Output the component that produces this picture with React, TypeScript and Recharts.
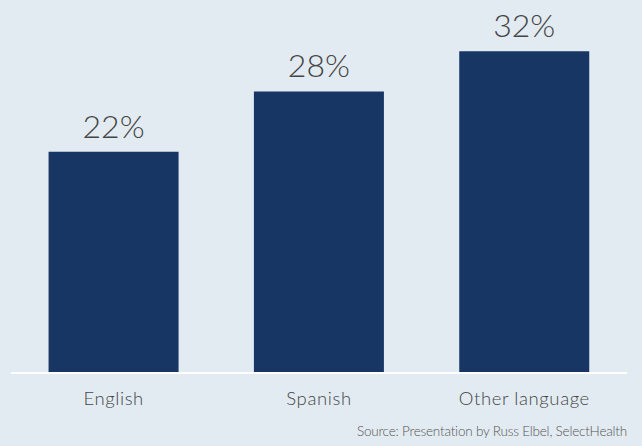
import React from 'react';
import { BarChart, Bar, XAxis, YAxis, LabelList } from 'recharts';

const languages = ['English', 'Spanish', 'Other language'];
const shares = [22, 28, 32];
const source = 'Source: Presentation by Russ Elbel, SelectHealth';

const data = languages.map((name, i) => ({ name, value: shares[i] }));

const FONT = 'Lato, "Open Sans", sans-serif';

export default function App() {
  return (
    <div
      style={{
        position: 'absolute',
        top: 0,
        left: 0,
        width: 642,
        height: 446,
        background: '#e2ebf1',
        fontFamily: FONT,
      }}
    >
      <BarChart
        width={642}
        height={446}
        data={data}
        margin={{ top: 11, right: 15, left: 11, bottom: 43 }}
        barCategoryGap="18.3%"
      >
        <YAxis hide domain={[0, 36]} />
        <XAxis
          dataKey="name"
          height={30}
          tickLine={false}
          axisLine={{ stroke: '#ffffff', strokeWidth: 2 }}
          tickMargin={13}
          tick={{
            fill: '#454545',
            fontSize: 18.5,
            fontFamily: FONT,
            fontWeight: 300,
            letterSpacing: 0.6,
          }}
        />
        <Bar dataKey="value" fill="#183663" isAnimationActive={false}>
          <LabelList
            dataKey="value"
            position="top"
            offset={14}
            formatter={(v: any) => `${v}%`}
            style={{ fill: '#454545', fontSize: 32, fontFamily: FONT, fontWeight: 300 }}
          />
        </Bar>
      </BarChart>
      <div
        style={{
          position: 'absolute',
          right: 15,
          top: 423,
          fontSize: 13.5,
          color: '#555555',
          fontWeight: 300,
          letterSpacing: -0.2,
        }}
      >
        {source}
      </div>
    </div>
  );
}
